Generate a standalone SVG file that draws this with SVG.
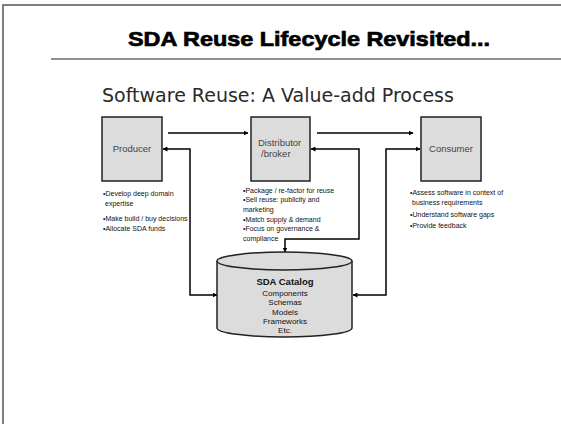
<svg xmlns="http://www.w3.org/2000/svg" width="561" height="424" viewBox="0 0 561 424">
  <defs>
    <marker id="arrow" viewBox="0 0 10 10" refX="9" refY="5" markerWidth="5" markerHeight="5" markerUnits="userSpaceOnUse" orient="auto-start-reverse">
      <path d="M0,0 L10,5 L0,10 Z" fill="#000"/>
    </marker>
    <style>
      .frame { stroke: #555; stroke-width: 1.5; fill: none; }
      .title { font-family: "Liberation Sans", Arial, sans-serif; font-weight: bold; font-size: 21px; fill: #000; stroke: #000; stroke-width: 0.7; }
      .subtitle { font-family: "DejaVu Sans", Verdana, sans-serif; font-size: 19px; fill: #2a2a2a; }
      .box { fill: #dcdcdc; stroke: #222; stroke-width: 1.5; }
      .label { font-family: "Liberation Sans", Arial, sans-serif; font-size: 9.5px; fill: #444; }
      .bullet { font-family: "Liberation Sans", Arial, sans-serif; font-size: 7px; fill: #111; }
      .cat { font-family: "Liberation Sans", Arial, sans-serif; font-size: 8px; fill: #111; text-anchor: middle; }
      .cat-title { font-size: 9.5px; font-weight: bold; }
      .conn { stroke: #000; stroke-width: 1.5; fill: none; }
    </style>
  </defs>

  <rect width="561" height="424" fill="#fff"/>

  <!-- page frame and heading -->
  <path class="frame" d="M3,424 V5 H561"/>
  <text class="title" x="128" y="46" textLength="362" lengthAdjust="spacingAndGlyphs">SDA Reuse Lifecycle Revisited...</text>
  <line x1="51" y1="59" x2="561" y2="59" stroke="#222" stroke-width="1.2"/>
  <text class="subtitle" x="278" y="102" text-anchor="middle">Software Reuse: A Value-add Process</text>

  <!-- connectors -->
  <g id="connectors">
    <path class="conn" d="M168,133 H248" marker-end="url(#arrow)"/>
    <path class="conn" d="M317,133 H413" marker-end="url(#arrow)"/>
    <path class="conn" d="M217,295 H190 V149 H163" marker-start="url(#arrow)" marker-end="url(#arrow)"/>
    <path class="conn" d="M311,149 H359 V239 H285 V252" marker-start="url(#arrow)" marker-end="url(#arrow)"/>
    <path class="conn" d="M420,149 H386 V295 H353" marker-start="url(#arrow)" marker-end="url(#arrow)"/>
  </g>

  <!-- producer -->
  <g id="producer">
    <rect class="box" x="102" y="117" width="60" height="64"/>
    <text class="label" x="132" y="152" text-anchor="middle">Producer</text>
    <text class="bullet" x="103" y="196">•Develop deep domain</text>
    <text class="bullet" x="105" y="206">expertise</text>
    <text class="bullet" x="103" y="221">•Make build / buy decisions</text>
    <text class="bullet" x="103" y="231">•Allocate SDA  funds</text>
  </g>

  <!-- distributor / broker -->
  <g id="distributor">
    <rect class="box" x="251" y="117" width="59" height="64"/>
    <text class="label" x="258" y="146">Distributor</text>
    <text class="label" x="261" y="157">/broker</text>
    <text class="bullet" x="243" y="193">•Package / re-factor for reuse</text>
    <text class="bullet" x="243" y="202">•Sell reuse: publicity and</text>
    <text class="bullet" x="243" y="212">marketing</text>
    <text class="bullet" x="243" y="222">•Match supply &amp;  demand</text>
    <text class="bullet" x="243" y="231">•Focus on governance &amp;</text>
    <text class="bullet" x="243" y="241">compliance</text>
  </g>

  <!-- consumer -->
  <g id="consumer">
    <rect class="box" x="421" y="117" width="60" height="64"/>
    <text class="label" x="451" y="152" text-anchor="middle">Consumer</text>
    <text class="bullet" x="410" y="195">•Assess software in context of</text>
    <text class="bullet" x="412" y="205">business requirements</text>
    <text class="bullet" x="410" y="217">•Understand software gaps</text>
    <text class="bullet" x="410" y="228">•Provide feedback</text>
  </g>

  <!-- catalog store -->
  <g id="catalog">
    <path class="box" d="M217,261 A67.5,9 0 0 1 352,261 V328 A67.5,9 0 0 1 217,328 Z"/>
    <path class="box" d="M217,261 A67.5,9 0 0 0 352,261" fill="none"/>
    <text class="cat cat-title" x="285" y="285">SDA Catalog</text>
    <text class="cat" x="285" y="295.5">Components</text>
    <text class="cat" x="285" y="305">Schemas</text>
    <text class="cat" x="285" y="314.5">Models</text>
    <text class="cat" x="285" y="324">Frameworks</text>
    <text class="cat" x="285" y="333">Etc.</text>
  </g>
</svg>
